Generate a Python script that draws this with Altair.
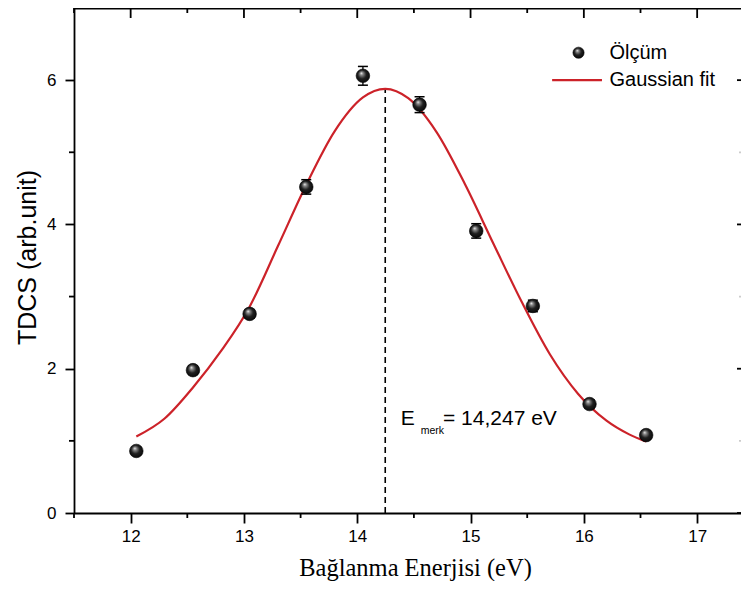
import altair as alt
import pandas as pd

# ---- data ----
energy = [12.05, 12.55, 13.05, 13.55, 14.05, 14.55, 15.05, 15.55, 16.05, 16.55]
tdcs = [0.86, 1.98, 2.76, 4.52, 6.06, 5.66, 3.91, 2.87, 1.51, 1.08]
tdcs_err = [0.05, 0.06, 0.06, 0.10, 0.13, 0.11, 0.10, 0.08, 0.06, 0.05]

fit_energy = [12.05, 12.30, 12.55, 12.80, 13.05, 13.30, 13.55, 13.80, 14.05, 14.247,
              14.45, 14.70, 14.95, 15.20, 15.45, 15.70, 15.95, 16.20, 16.40, 16.55]
fit_tdcs = [1.06, 1.31, 1.74, 2.25, 2.86, 3.70, 4.55, 5.29, 5.76, 5.88,
            5.75, 5.28, 4.56, 3.74, 2.93, 2.20, 1.65, 1.28, 1.09, 0.99]

e_merk = 14.247
e_merk_peak = 5.88

x_major = [12, 13, 14, 15, 16, 17]
x_minor = [11.5, 12.5, 13.5, 14.5, 15.5, 16.5]
y_major = [0, 2, 4, 6]
y_minor = [1, 3, 5]

x_domain = [11.5, 17.387]
y_domain = [0, 7]

W, H = 667, 505
RED = "#cc2229"
SANS = "Liberation Sans"
SERIF = "Liberation Serif"

pts = pd.DataFrame({"x": energy, "y": tdcs, "err": tdcs_err})
pts["lo"] = pts["y"] - pts["err"]
pts["hi"] = pts["y"] + pts["err"]
fit = pd.DataFrame({"x": fit_energy, "y": fit_tdcs})

xscale = alt.Scale(domain=x_domain, nice=False, zero=False)
yscale = alt.Scale(domain=y_domain, nice=False, zero=False)

xaxis = alt.Axis(values=x_major, format="d", grid=False, tickSize=10, tickWidth=1.8,
                 tickColor="black", domainColor="black", domainWidth=1.8,
                 labelFont=SANS, labelFontSize=17, labelColor="black", labelPadding=5,
                 title="Bağlanma Enerjisi (eV)", titleFont=SERIF, titleFontSize=24.5,
                 titleFontWeight="normal", titleColor="black",
                 titleX=341, titleY=55, titleBaseline="middle")
yaxis = alt.Axis(values=y_major, format="d", grid=False, tickSize=9, tickWidth=1.8,
                 tickColor="black", domainColor="black", domainWidth=1.8,
                 labelFont=SANS, labelFontSize=17, labelColor="black", labelPadding=9,
                 title="TDCS (arb.unit)", titleFont=SANS, titleFontSize=25,
                 titleFontWeight="normal", titleColor="black",
                 titleX=-47, titleY=249, titleBaseline="middle", titleAngle=270)


def X(field="x"):
    return alt.X(field, type="quantitative", scale=xscale, axis=xaxis)


def Y(field="y"):
    return alt.Y(field, type="quantitative", scale=yscale, axis=yaxis)


ball = alt.RadialGradient(
    gradient="radial", x1=0.38, y1=0.3, r1=0.0, x2=0.5, y2=0.5, r2=0.62,
    stops=[alt.GradientStop(offset=0.0, color="#f4f4f4"),
           alt.GradientStop(offset=0.18, color="#8a8a8a"),
           alt.GradientStop(offset=0.5, color="#202020"),
           alt.GradientStop(offset=1.0, color="#000000")])

base = alt.Chart(pts)

err_rule = base.mark_rule(color="black", strokeWidth=1.3).encode(x=X(), y=Y("lo"), y2="hi")
cap_lo = base.mark_point(shape="M-1,0H1", size=100, filled=False, color="black",
                         strokeWidth=1.5, opacity=1).encode(x=X(), y=Y("lo"))
cap_hi = base.mark_point(shape="M-1,0H1", size=100, filled=False, color="black",
                         strokeWidth=1.5, opacity=1).encode(x=X(), y=Y("hi"))
balls = base.mark_circle(size=185, fill=ball, opacity=1, stroke="#000000",
                         strokeWidth=0.6).encode(x=X(), y=Y())

fit_line = alt.Chart(fit).mark_line(color=RED, strokeWidth=2.2,
                                    interpolate="monotone").encode(x=X(), y=Y())

dash = alt.Chart(pd.DataFrame({"x": [e_merk], "y": [0.0], "y2": [e_merk_peak]})).mark_rule(
    color="black", strokeWidth=1.6, strokeDash=[6, 4]).encode(x=X(), y=Y(), y2="y2")

# frame: top border and mirrored / minor ticks
top_border = alt.Chart(pd.DataFrame({"x": [x_domain[0]], "x2": [x_domain[1]],
                                     "y": [y_domain[1]]})).mark_rule(
    color="black", strokeWidth=3).encode(x=X(), x2="x2", y=Y())

xmaj = alt.Chart(pd.DataFrame({"x": x_major}))
xmin = alt.Chart(pd.DataFrame({"x": x_minor}))
ymaj = alt.Chart(pd.DataFrame({"y": y_major}))
ymin = alt.Chart(pd.DataFrame({"y": y_minor}))

bot_minor = xmin.mark_rule(color="black", strokeWidth=1.8).encode(
    x=X(), y=alt.value(H), y2=alt.value(H + 5))
top_major = xmaj.mark_rule(color="black", strokeWidth=1.8).encode(
    x=X(), y=alt.value(0), y2=alt.value(10))
top_minor = xmin.mark_rule(color="black", strokeWidth=1.8).encode(
    x=X(), y=alt.value(0), y2=alt.value(5))
left_minor = ymin.mark_rule(color="black", strokeWidth=1.8).encode(
    y=Y(), x=alt.value(0), x2=alt.value(-5))
right_major = ymaj.mark_rule(color="black", strokeWidth=1.8).encode(
    y=Y(), x=alt.value(W), x2=alt.value(W - 4))
right_minor = ymin.mark_rule(color="#cccccc", strokeWidth=1.8).encode(
    y=Y(), x=alt.value(W), x2=alt.value(W - 2))

# legend
leg_ball = alt.Chart(pd.DataFrame({"x": [15.953], "y": [6.38]})).mark_circle(
    size=125, fill=ball, opacity=1, stroke="#000000", strokeWidth=0.6).encode(x=X(), y=Y())
leg_line = alt.Chart(pd.DataFrame({"x": [15.72], "x2": [16.16], "y": [6.0]})).mark_rule(
    color=RED, strokeWidth=2.2).encode(x=X(), x2="x2", y=Y())
leg_text = alt.Chart(pd.DataFrame({"x": [16.226, 16.226], "y": [6.38, 6.0],
                                   "t": ["Ölçüm", "Gaussian fit"]})).mark_text(
    align="left", baseline="middle", font=SANS, fontSize=20, color="black").encode(
    x=X(), y=Y(), text="t")

# annotation
ann_main = alt.Chart(pd.DataFrame({"x": [14.385, 14.757], "y": [1.217, 1.217],
                                   "t": ["E", "= 14,247 eV"]})).mark_text(
    align="left", baseline="alphabetic", font=SANS, fontSize=21, color="black").encode(
    x=X(), y=Y(), text="t")
ann_sub = alt.Chart(pd.DataFrame({"x": [14.56], "y": [1.10], "t": ["merk"]})).mark_text(
    align="left", baseline="alphabetic", font=SANS, fontSize=10.5, color="black").encode(
    x=X(), y=Y(), text="t")

chart = alt.layer(
    top_border, bot_minor, top_major, top_minor, left_minor, right_major, right_minor,
    dash, fit_line, err_rule, cap_lo, cap_hi, balls,
    leg_line, leg_ball, leg_text, ann_main, ann_sub,
).properties(
    width=W, height=H,
    autosize=alt.AutoSizeParams(type="none"),
    padding={"left": 66, "top": 0, "right": 0, "bottom": 68},
    background="white",
).configure_view(stroke=None)

chart.save("out.html", embed_options={"renderer": "svg", "actions": False})
